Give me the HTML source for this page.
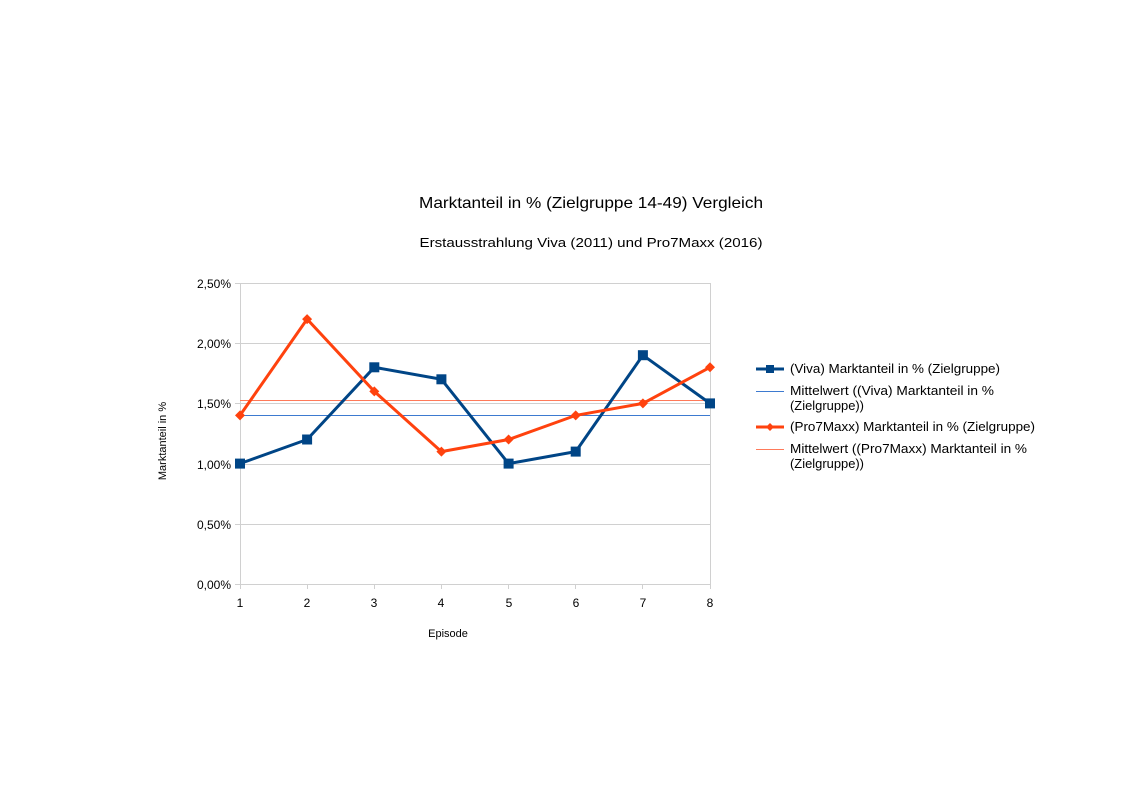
<!DOCTYPE html><html><head><meta charset="utf-8"><style>body{margin:0;background:#fff}svg{display:block}text{font-family:"Liberation Sans",sans-serif;fill:#000}</style></head><body>
<svg width="1122" height="793" viewBox="0 0 1122 793">
<text x="591" y="208" font-size="16" text-anchor="middle" textLength="344" lengthAdjust="spacingAndGlyphs">Marktanteil in % (Zielgruppe 14-49) Vergleich</text>
<text x="591" y="247" font-size="13" text-anchor="middle" textLength="343" lengthAdjust="spacingAndGlyphs">Erstausstrahlung Viva (2011) und Pro7Maxx (2016)</text>
<g stroke="#d0d0d0" stroke-width="1">
<line x1="235" y1="283.5" x2="710" y2="283.5"/><line x1="235" y1="343.5" x2="710" y2="343.5"/><line x1="235" y1="403.5" x2="710" y2="403.5"/><line x1="235" y1="464.5" x2="710" y2="464.5"/><line x1="235" y1="524.5" x2="710" y2="524.5"/><line x1="235" y1="584.5" x2="710" y2="584.5"/>
<line x1="240.5" y1="283" x2="240.5" y2="589"/><line x1="710.5" y1="283" x2="710.5" y2="589"/>
<line x1="307.5" y1="584" x2="307.5" y2="589"/><line x1="374.5" y1="584" x2="374.5" y2="589"/><line x1="441.5" y1="584" x2="441.5" y2="589"/><line x1="508.5" y1="584" x2="508.5" y2="589"/><line x1="575.5" y1="584" x2="575.5" y2="589"/><line x1="642.5" y1="584" x2="642.5" y2="589"/>
</g>
<g font-size="12" text-anchor="end">
<text x="231" y="288">2,50%</text><text x="231" y="348">2,00%</text><text x="231" y="408">1,50%</text><text x="231" y="469">1,00%</text><text x="231" y="529">0,50%</text><text x="231" y="589">0,00%</text></g>
<g font-size="12" text-anchor="middle">
<text x="240" y="607">1</text><text x="307" y="607">2</text><text x="374" y="607">3</text><text x="441" y="607">4</text><text x="509" y="607">5</text><text x="576" y="607">6</text><text x="643" y="607">7</text><text x="710" y="607">8</text></g>
<text x="448" y="637" font-size="11" text-anchor="middle">Episode</text>
<text transform="translate(166,441) rotate(-90)" font-size="11" text-anchor="middle">Marktanteil in %</text>
<line x1="240" y1="415.5" x2="710" y2="415.5" stroke="#3d7ad0" stroke-width="1"/>
<line x1="240" y1="400.5" x2="710" y2="400.5" stroke="#ff7a5a" stroke-width="1"/>
<polyline fill="none" stroke="#004586" stroke-width="3" points="240,463.6 307.1,439.5 374.3,367.3 441.4,379.3 508.6,463.6 575.7,451.6 642.9,355.2 710,403.4"/>
<g fill="#004586"><rect x="235" y="458.6" width="10" height="10"/><rect x="302.1" y="434.5" width="10" height="10"/><rect x="369.3" y="362.3" width="10" height="10"/><rect x="436.4" y="374.3" width="10" height="10"/><rect x="503.6" y="458.6" width="10" height="10"/><rect x="570.7" y="446.6" width="10" height="10"/><rect x="637.9" y="350.2" width="10" height="10"/><rect x="705" y="398.4" width="10" height="10"/></g>
<polyline fill="none" stroke="#ff420e" stroke-width="3" points="240,415.4 307.1,319.1 374.3,391.4 441.4,451.6 508.6,439.5 575.7,415.4 642.9,403.4 710,367.3"/>
<g fill="#ff420e">
<path d="M240 410.4l5 5-5 5-5-5z"/><path d="M307.1 314.1l5 5-5 5-5-5z"/><path d="M374.3 386.4l5 5-5 5-5-5z"/><path d="M441.4 446.6l5 5-5 5-5-5z"/><path d="M508.6 434.5l5 5-5 5-5-5z"/><path d="M575.7 410.4l5 5-5 5-5-5z"/><path d="M642.9 398.4l5 5-5 5-5-5z"/><path d="M710 362.3l5 5-5 5-5-5z"/></g>
<line x1="756" y1="369" x2="784" y2="369" stroke="#004586" stroke-width="3"/><rect x="766" y="365" width="8" height="8" fill="#004586"/>
<line x1="756" y1="391.5" x2="784" y2="391.5" stroke="#3d7ad0" stroke-width="1"/>
<line x1="756" y1="427" x2="784" y2="427" stroke="#ff420e" stroke-width="3"/><path d="M770 423l4 4-4 4-4-4z" fill="#ff420e"/>
<line x1="756" y1="449.5" x2="784" y2="449.5" stroke="#ff7a5a" stroke-width="1"/>
<g font-size="12.5">
<text x="790" y="373" textLength="210" lengthAdjust="spacingAndGlyphs">(Viva) Marktanteil in % (Zielgruppe)</text>
<text x="790" y="395" textLength="204" lengthAdjust="spacingAndGlyphs">Mittelwert ((Viva) Marktanteil in %</text>
<text x="790" y="410" textLength="74" lengthAdjust="spacingAndGlyphs">(Zielgruppe))</text>
<text x="790" y="431" textLength="245" lengthAdjust="spacingAndGlyphs">(Pro7Maxx) Marktanteil in % (Zielgruppe)</text>
<text x="790" y="453" textLength="237" lengthAdjust="spacingAndGlyphs">Mittelwert ((Pro7Maxx) Marktanteil in %</text>
<text x="790" y="468" textLength="74" lengthAdjust="spacingAndGlyphs">(Zielgruppe))</text></g>
</svg></body></html>
